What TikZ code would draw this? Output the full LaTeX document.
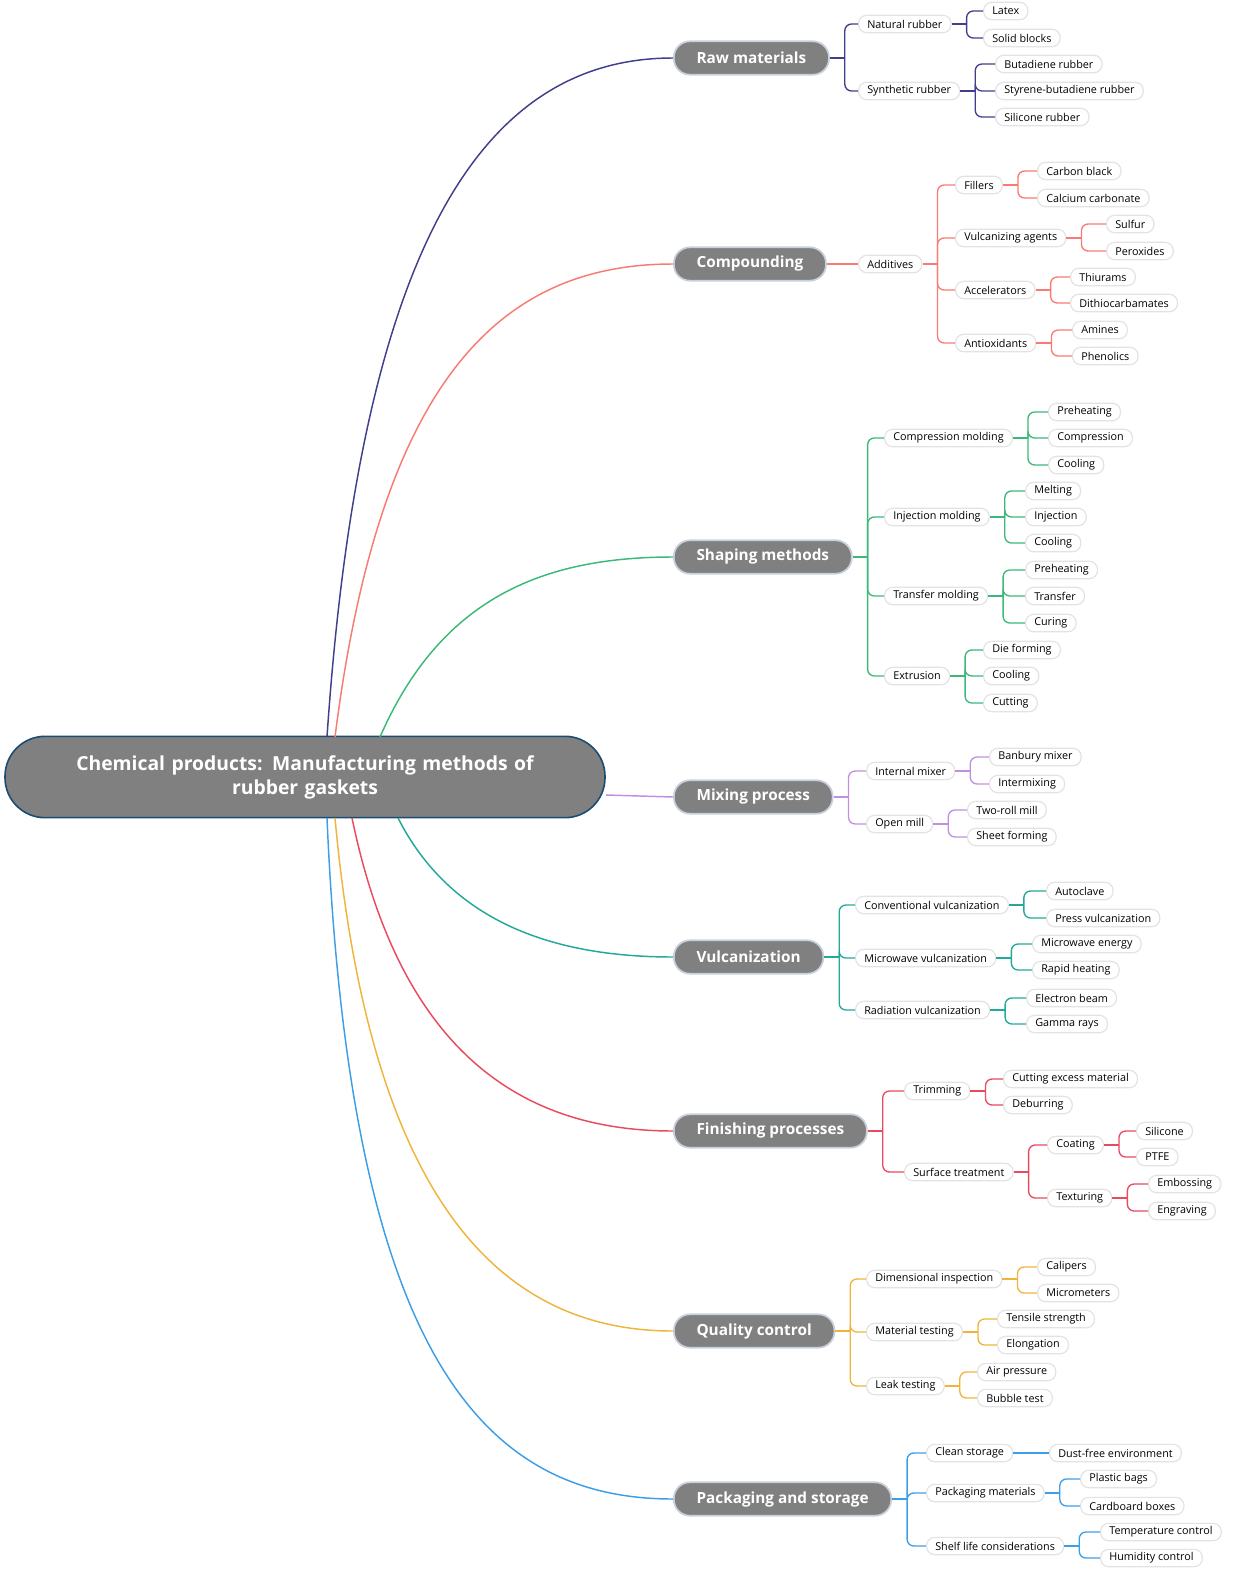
\documentclass[tikz,border=0pt]{standalone}
\usepackage{fontspec}
\setmainfont{Open Sans}
\usetikzlibrary{calc}
\definecolor{craw}{HTML}{3F3F8C}
\definecolor{ccomp}{HTML}{F77B72}
\definecolor{cshape}{HTML}{3CB878}
\definecolor{cmix}{HTML}{C08FE0}
\definecolor{cvulc}{HTML}{22A99A}
\definecolor{cfin}{HTML}{E84A5F}
\definecolor{cqual}{HTML}{F0B43C}
\definecolor{cpack}{HTML}{3D9EE8}
\definecolor{pillrim}{HTML}{C8D0DC}
\definecolor{rootrim}{HTML}{1B4C72}
\tikzset{
  leaf/.style={rectangle, rounded corners=6pt, draw=gray!22, line width=0.9pt, fill=white,
    inner xsep=6.5pt, inner ysep=1pt, minimum height=13pt, anchor=west, font=\fontsize{8.1}{9}\selectfont},
  pill/.style={rectangle, rounded corners=12pt, draw=pillrim, line width=1.3pt, fill=gray,
    text=white, inner xsep=17pt, minimum height=25pt, anchor=west, font=\fontsize{11.5}{13}\selectfont\bfseries},
  elbow/.style={line width=1pt, rounded corners=5pt},
  trunk/.style={line width=1.1pt}
}
\newcommand\fork[2]{\draw (#1.east) -- ++(15,0); \foreach \c in {#2} \draw ($(#1.east)+(15,0)$) |- (\c.west);}
\begin{document}
\begin{tikzpicture}[x=0.75pt,y=-0.75pt]
\useasboundingbox (0,0) rectangle (1240,1584);

\node (root) [rectangle, rounded corners=30pt, draw=rootrim, line width=1.2pt, fill=gray, text=white,
  minimum width=450pt, minimum height=61pt, text width=400pt, align=center,
  font=\fontsize{14.5}{18}\selectfont\bfseries] at (305,777) {Chemical products: Manufacturing methods of\\ rubber gaskets};

% Raw materials
\node (raw) [pill] at (673,58) {Raw materials};
\node (nat) [leaf] at (858,24) {Natural rubber};
\node (syn) [leaf] at (858,91) {Synthetic rubber};
\node (latex) [leaf] at (983,11) {Latex};
\node (solid) [leaf] at (983,38) {Solid blocks};
\node (buta) [leaf] at (995,64) {Butadiene rubber};
\node (sbr) [leaf] at (995,91) {Styrene-butadiene rubber};
\node (silr) [leaf] at (995,117) {Silicone rubber};
\begin{scope}[craw, elbow]
\fork{raw}{nat,syn}
\fork{nat}{latex,solid}
\fork{syn}{buta,sbr,silr}
\end{scope}

% Compounding
\node (comp) [pill] at (673,264) {Compounding};
\node (add) [leaf] at (858,264) {Additives};
\node (fill) [leaf] at (955,185) {Fillers};
\node (vagent) [leaf] at (955,238) {Vulcanizing agents};
\node (acc) [leaf] at (955,290) {Accelerators};
\node (anti) [leaf] at (955,343) {Antioxidants};
\node (carb) [leaf] at (1037,171) {Carbon black};
\node (calc) [leaf] at (1037,198) {Calcium carbonate};
\node (sulf) [leaf] at (1106,224) {Sulfur};
\node (perox) [leaf] at (1106,251) {Peroxides};
\node (thiu) [leaf] at (1070,277) {Thiurams};
\node (dithio) [leaf] at (1070,303) {Dithiocarbamates};
\node (amin) [leaf] at (1072,330) {Amines};
\node (phen) [leaf] at (1072,356) {Phenolics};
\begin{scope}[ccomp, elbow]
\draw (comp.east) -- (add.west);
\fork{add}{fill,vagent,acc,anti}
\fork{fill}{carb,calc}
\fork{vagent}{sulf,perox}
\fork{acc}{thiu,dithio}
\fork{anti}{amin,phen}
\end{scope}

% Shaping methods
\node (shape) [pill] at (673,557) {Shaping methods};
\node (cmold) [leaf] at (884,438) {Compression molding};
\node (imold) [leaf] at (884,517) {Injection molding};
\node (tmold) [leaf] at (884,596) {Transfer molding};
\node (extr) [leaf] at (884,676) {Extrusion};
\node (cpre) [leaf] at (1048,412) {Preheating};
\node (ccomp) [leaf] at (1048,438) {Compression};
\node (ccool) [leaf] at (1048,465) {Cooling};
\node (imelt) [leaf] at (1025,491) {Melting};
\node (iinj) [leaf] at (1025,517) {Injection};
\node (icool) [leaf] at (1025,543) {Cooling};
\node (tpre) [leaf] at (1025,570) {Preheating};
\node (ttrans) [leaf] at (1025,596) {Transfer};
\node (tcur) [leaf] at (1025,623) {Curing};
\node (edie) [leaf] at (983,650) {Die forming};
\node (ecool) [leaf] at (983,676) {Cooling};
\node (ecut) [leaf] at (983,703) {Cutting};
\begin{scope}[cshape, elbow]
\fork{shape}{cmold,imold,tmold,extr}
\fork{cmold}{cpre,ccomp,ccool}
\fork{imold}{imelt,iinj,icool}
\fork{tmold}{tpre,ttrans,tcur}
\fork{extr}{edie,ecool,ecut}
\end{scope}

% Mixing process
\node (mix) [pill] at (673,797) {Mixing process};
\node (imix) [leaf] at (866,771) {Internal mixer};
\node (omill) [leaf] at (866,824) {Open mill};
\node (banb) [leaf] at (989,757) {Banbury mixer};
\node (inter) [leaf] at (989,784) {Intermixing};
\node (troll) [leaf] at (967,810) {Two-roll mill};
\node (sheet) [leaf] at (967,837) {Sheet forming};
\begin{scope}[cmix, elbow]
\fork{mix}{imix,omill}
\fork{imix}{banb,inter}
\fork{omill}{troll,sheet}
\end{scope}

% Vulcanization
\node (vulc) [pill] at (673,957) {Vulcanization};
\node (conv) [leaf] at (855,905) {Conventional vulcanization};
\node (micro) [leaf] at (855,958) {Microwave vulcanization};
\node (radi) [leaf] at (855,1010) {Radiation vulcanization};
\node (auto) [leaf] at (1046,891) {Autoclave};
\node (press) [leaf] at (1046,918) {Press vulcanization};
\node (menergy) [leaf] at (1032,944) {Microwave energy};
\node (rapid) [leaf] at (1032,970) {Rapid heating};
\node (ebeam) [leaf] at (1026,998) {Electron beam};
\node (gamma) [leaf] at (1026,1024) {Gamma rays};
\begin{scope}[cvulc, elbow]
\fork{vulc}{conv,micro,radi}
\fork{conv}{auto,press}
\fork{micro}{menergy,rapid}
\fork{radi}{ebeam,gamma}
\end{scope}

% Finishing processes
\node (fin) [pill] at (673,1131) {Finishing processes};
\node (trim) [leaf] at (904,1091) {Trimming};
\node (surf) [leaf] at (904,1172) {Surface treatment};
\node (cutex) [leaf] at (1003,1079) {Cutting excess material};
\node (debur) [leaf] at (1003,1105) {Deburring};
\node (coat) [leaf] at (1047,1145) {Coating};
\node (text) [leaf] at (1047,1198) {Texturing};
\node (sil) [leaf] at (1136,1131) {Silicone};
\node (ptfe) [leaf] at (1136,1157) {PTFE};
\node (emb) [leaf] at (1148,1184) {Embossing};
\node (engr) [leaf] at (1148,1211) {Engraving};
\begin{scope}[cfin, elbow]
\fork{fin}{trim,surf}
\fork{trim}{cutex,debur}
\fork{surf}{coat,text}
\fork{coat}{sil,ptfe}
\fork{text}{emb,engr}
\end{scope}

% Quality control
\node (qual) [pill] at (673,1331) {Quality control};
\node (dim) [leaf] at (866,1279) {Dimensional inspection};
\node (mat) [leaf] at (866,1332) {Material testing};
\node (leak) [leaf] at (866,1386) {Leak testing};
\node (calip) [leaf] at (1037,1267) {Calipers};
\node (micr) [leaf] at (1037,1293) {Micrometers};
\node (tens) [leaf] at (997,1319) {Tensile strength};
\node (elong) [leaf] at (997,1345) {Elongation};
\node (air) [leaf] at (977,1372) {Air pressure};
\node (bub) [leaf] at (977,1398) {Bubble test};
\begin{scope}[cqual, elbow]
\fork{qual}{dim,mat,leak}
\fork{dim}{calip,micr}
\fork{mat}{tens,elong}
\fork{leak}{air,bub}
\end{scope}

% Packaging and storage
\node (pack) [pill] at (673,1499) {Packaging and storage};
\node (clean) [leaf] at (926,1453) {Clean storage};
\node (pmat) [leaf] at (926,1493) {Packaging materials};
\node (shelf) [leaf] at (926,1546) {Shelf life considerations};
\node (dust) [leaf] at (1049,1453) {Dust-free environment};
\node (plast) [leaf] at (1080,1479) {Plastic bags};
\node (card) [leaf] at (1080,1506) {Cardboard boxes};
\node (temp) [leaf] at (1100,1532) {Temperature control};
\node (humid) [leaf] at (1100,1558) {Humidity control};
\begin{scope}[cpack, elbow]
\fork{pack}{clean,pmat,shelf}
\draw (clean.east) -- (dust.west);
\fork{pmat}{plast,card}
\fork{shelf}{temp,humid}
\end{scope}

% root to main branches
\draw[trunk, craw] (327,737) .. controls (360,250) and (480,58) .. (raw.west);
\draw[trunk, ccomp] (335,737) .. controls (380,380) and (500,264) .. (comp.west);
\draw[trunk, cshape] (380,737) .. controls (440,600) and (540,557) .. (shape.west);
\draw[trunk, cmix] (root.east |- 0,795) -- (mix.west);
\draw[trunk, cvulc] (398,818) .. controls (450,920) and (550,957) .. (vulc.west);
\draw[trunk, cfin] (352,818) .. controls (400,1050) and (520,1131) .. (fin.west);
\draw[trunk, cqual] (335,818) .. controls (370,1200) and (500,1331) .. (qual.west);
\draw[trunk, cpack] (327,818) .. controls (350,1350) and (480,1499) .. (pack.west);
\end{tikzpicture}
\end{document}
